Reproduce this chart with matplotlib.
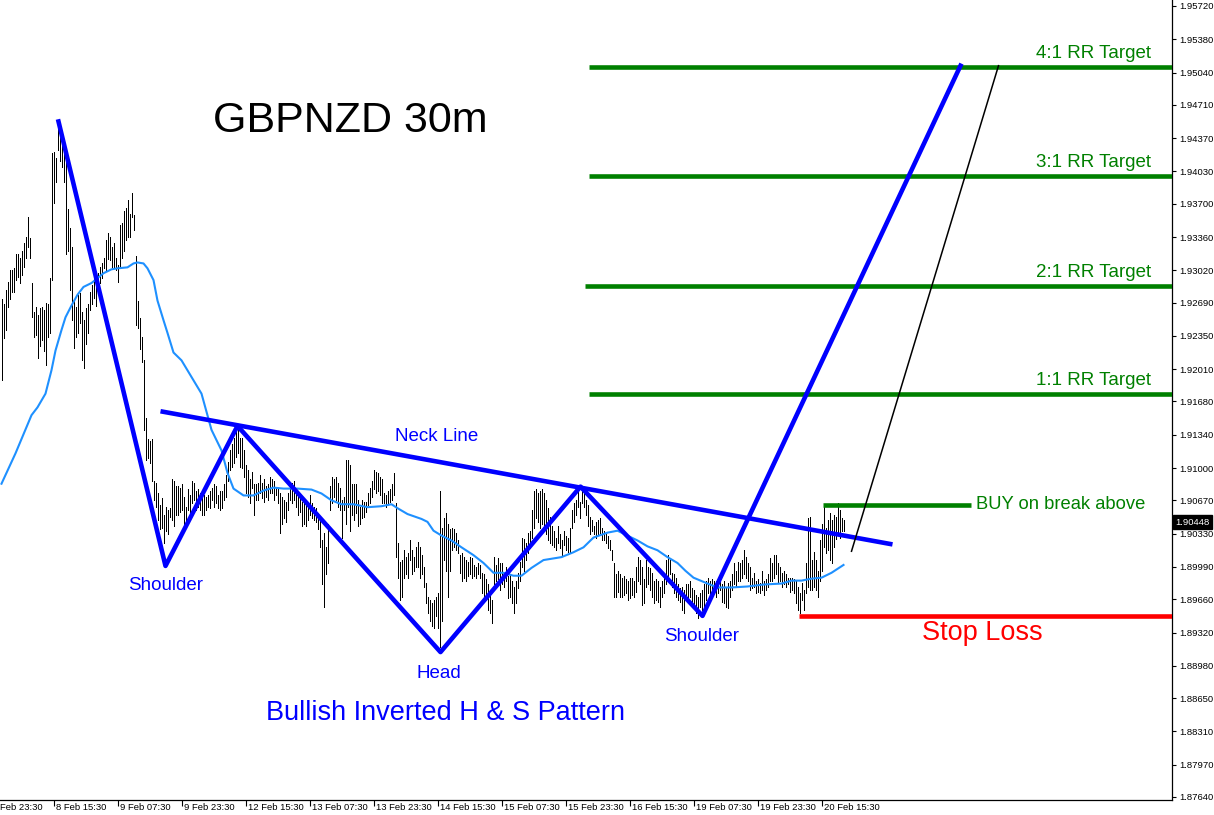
import matplotlib
matplotlib.use("Agg")
import matplotlib.pyplot as plt
import numpy as np

plt.rcParams['font.family'] = ['Liberation Sans', 'DejaVu Sans']

# 30m bar highs / lows (one entry per bar, left to right)
highs = [
    1.9273, 1.9268, 1.9282, 1.9290, 1.9302, 1.9302, 1.9304, 1.9319, 1.9319, 1.9315,
    1.9322, 1.9330, 1.9336, 1.9356, 1.9335, 1.9289, 1.9259, 1.9264, 1.9256, 1.9263,
    1.9264, 1.9261, 1.9269, 1.9268, 1.9294, 1.9422, 1.9423, 1.9417, 1.9452, 1.9448,
    1.9442, 1.9430, 1.9417, 1.9365, 1.9345, 1.9326, 1.9271, 1.9264, 1.9277, 1.9279,
    1.9259, 1.9251, 1.9263, 1.9268, 1.9280, 1.9287, 1.9305, 1.9294, 1.9299, 1.9305,
    1.9309, 1.9315, 1.9333, 1.9340, 1.9336, 1.9326, 1.9330, 1.9315, 1.9307, 1.9348,
    1.9350, 1.9363, 1.9366, 1.9374, 1.9360, 1.9381, 1.9358, 1.9317, 1.9271, 1.9253,
    1.9234, 1.9210, 1.9151, 1.9130, 1.9128, 1.9130, 1.9087, 1.9085, 1.9074, 1.9062,
    1.9069, 1.9052, 1.9060, 1.9057, 1.9059, 1.9089, 1.9087, 1.9082, 1.9082, 1.9080,
    1.9084, 1.9070, 1.9060, 1.9079, 1.9072, 1.9087, 1.9085, 1.9077, 1.9079, 1.9074,
    1.9070, 1.9072, 1.9070, 1.9072, 1.9077, 1.9080, 1.9084, 1.9082, 1.9072, 1.9077,
    1.9077, 1.9084, 1.9093, 1.9106, 1.9118, 1.9125, 1.9131, 1.9139, 1.9142, 1.9131,
    1.9131, 1.9118, 1.9103, 1.9098, 1.9089, 1.9096, 1.9084, 1.9084, 1.9085, 1.9093,
    1.9085, 1.9089, 1.9082, 1.9084, 1.9091, 1.9089, 1.9087, 1.9080, 1.9079, 1.9075,
    1.9070, 1.9067, 1.9065, 1.9074, 1.9084, 1.9085, 1.9087, 1.9079, 1.9075, 1.9072,
    1.9065, 1.9065, 1.9067, 1.9064, 1.9072, 1.9064, 1.9060, 1.9059, 1.9054, 1.9049,
    1.9026, 1.9034, 1.9019, 1.9043, 1.9082, 1.9091, 1.9089, 1.9091, 1.9085, 1.9080,
    1.9067, 1.9070, 1.9108, 1.9108, 1.9103, 1.9084, 1.9084, 1.9084, 1.9067, 1.9060,
    1.9067, 1.9065, 1.9065, 1.9075, 1.9080, 1.9087, 1.9098, 1.9096, 1.9095, 1.9091,
    1.9089, 1.9075, 1.9072, 1.9077, 1.9079, 1.9084, 1.9095, 1.9064, 1.9023, 1.9004,
    1.9006, 1.9016, 1.9009, 1.9013, 1.9026, 1.9016, 1.9009, 1.9019, 1.9024, 1.9019,
    1.9011, 1.8999, 1.8983, 1.8968, 1.8965, 1.8962, 1.8965, 1.8968, 1.8972, 1.9077,
    1.9039, 1.9049, 1.9054, 1.9043, 1.9038, 1.9039, 1.9038, 1.9034, 1.9026, 1.9011,
    1.9013, 1.9009, 1.9006, 1.9004, 1.9009, 1.9008, 1.9001, 1.8999, 1.9003, 1.9001,
    1.8993, 1.8992, 1.8987, 1.8982, 1.8972, 1.8965, 1.9009, 1.9001, 1.9008, 1.9003,
    1.9003, 1.8992, 1.8999, 1.8990, 1.8992, 1.8985, 1.8978, 1.8985, 1.8993, 1.9004,
    1.9029, 1.9028, 1.9023, 1.9034, 1.9036, 1.9057, 1.9077, 1.9079, 1.9074, 1.9077,
    1.9079, 1.9074, 1.9067, 1.9059, 1.9050, 1.9041, 1.9036, 1.9029, 1.9041, 1.9033,
    1.9026, 1.9036, 1.9031, 1.9029, 1.9039, 1.9057, 1.9064, 1.9067, 1.9077, 1.9065,
    1.9080, 1.9074, 1.9067, 1.9062, 1.9050, 1.9047, 1.9041, 1.9045, 1.9047, 1.9049,
    1.9039, 1.9036, 1.9034, 1.9031, 1.9026, 1.9016, 1.9003, 1.8992, 1.8995, 1.8992,
    1.8988, 1.8990, 1.8987, 1.8985, 1.8988, 1.8988, 1.8985, 1.8999, 1.9009, 1.9006,
    1.8999, 1.8987, 1.9006, 1.8999, 1.8998, 1.8993, 1.8985, 1.8987, 1.8985, 1.8978,
    1.8985, 1.8990, 1.9006, 1.9011, 1.9006, 1.8993, 1.8992, 1.8988, 1.8982, 1.8977,
    1.8978, 1.8975, 1.8982, 1.8982, 1.8985, 1.8977, 1.8975, 1.8970, 1.8968, 1.8972,
    1.8975, 1.8982, 1.8985, 1.8988, 1.8985, 1.8987, 1.8985, 1.8985, 1.8982, 1.8988,
    1.8982, 1.8985, 1.8978, 1.8983, 1.8985, 1.8992, 1.9003, 1.8995, 1.9004, 1.9003,
    1.9006, 1.9016, 1.9009, 1.9003, 1.8999, 1.8988, 1.8993, 1.8985, 1.8987, 1.8983,
    1.8995, 1.8985, 1.8987, 1.8992, 1.9008, 1.9003, 1.9011, 1.9011, 1.9003, 1.8999,
    1.8993, 1.8995, 1.8992, 1.8988, 1.8988, 1.8988, 1.8987, 1.8985, 1.8978, 1.8972,
    1.8983, 1.8975, 1.9003, 1.9049, 1.9050, 1.9006, 1.9014, 1.9006, 1.8995, 1.9026,
    1.9043, 1.9062, 1.9039, 1.9047, 1.9054, 1.9047, 1.9052, 1.9050, 1.9064, 1.9057,
    1.9049, 1.9047,
]
lows = [
    1.9190, 1.9233, 1.9241, 1.9264, 1.9273, 1.9280, 1.9280, 1.9292, 1.9295, 1.9289,
    1.9297, 1.9305, 1.9315, 1.9326, 1.9315, 1.9254, 1.9234, 1.9236, 1.9212, 1.9225,
    1.9231, 1.9220, 1.9205, 1.9234, 1.9238, 1.9292, 1.9371, 1.9392, 1.9425, 1.9414,
    1.9407, 1.9392, 1.9319, 1.9322, 1.9282, 1.9251, 1.9223, 1.9234, 1.9238, 1.9248,
    1.9210, 1.9202, 1.9227, 1.9238, 1.9261, 1.9268, 1.9274, 1.9266, 1.9282, 1.9289,
    1.9294, 1.9304, 1.9302, 1.9314, 1.9312, 1.9305, 1.9304, 1.9302, 1.9290, 1.9305,
    1.9315, 1.9322, 1.9333, 1.9336, 1.9336, 1.9356, 1.9343, 1.9246, 1.9243, 1.9222,
    1.9208, 1.9139, 1.9108, 1.9110, 1.9105, 1.9087, 1.9067, 1.9060, 1.9047, 1.9038,
    1.9039, 1.9023, 1.9036, 1.9033, 1.9050, 1.9047, 1.9041, 1.9052, 1.9052, 1.9055,
    1.9057, 1.9039, 1.9043, 1.9057, 1.9054, 1.9064, 1.9067, 1.9057, 1.9060, 1.9057,
    1.9052, 1.9052, 1.9057, 1.9060, 1.9059, 1.9067, 1.9060, 1.9064, 1.9059, 1.9057,
    1.9059, 1.9067, 1.9070, 1.9087, 1.9098, 1.9101, 1.9105, 1.9111, 1.9115, 1.9101,
    1.9100, 1.9091, 1.9074, 1.9070, 1.9064, 1.9080, 1.9052, 1.9067, 1.9067, 1.9074,
    1.9069, 1.9065, 1.9070, 1.9067, 1.9074, 1.9075, 1.9067, 1.9072, 1.9064, 1.9034,
    1.9043, 1.9049, 1.9045, 1.9057, 1.9067, 1.9064, 1.9067, 1.9060, 1.9052, 1.9055,
    1.9041, 1.9043, 1.9041, 1.9047, 1.9052, 1.9049, 1.9047, 1.9045, 1.9038, 1.9019,
    1.8982, 1.8958, 1.8992, 1.9003, 1.9057, 1.9064, 1.9070, 1.9067, 1.9060, 1.9057,
    1.9029, 1.9057, 1.9043, 1.9060, 1.9036, 1.9052, 1.9047, 1.9054, 1.9041, 1.9043,
    1.9049, 1.9050, 1.9055, 1.9062, 1.9064, 1.9070, 1.9079, 1.9074, 1.9077, 1.9072,
    1.9064, 1.9064, 1.9060, 1.9064, 1.9065, 1.9067, 1.9072, 1.9009, 1.8988, 1.8965,
    1.8968, 1.8988, 1.8992, 1.8988, 1.9006, 1.8992, 1.8995, 1.8999, 1.8999, 1.8988,
    1.8992, 1.8978, 1.8962, 1.8952, 1.8944, 1.8939, 1.8937, 1.8949, 1.8937, 1.8917,
    1.8944, 1.9006, 1.8995, 1.8968, 1.8995, 1.9016, 1.9019, 1.9016, 1.9013, 1.8993,
    1.8985, 1.8988, 1.8985, 1.8990, 1.8992, 1.8988, 1.8990, 1.8988, 1.8992, 1.8988,
    1.8972, 1.8967, 1.8965, 1.8955, 1.8952, 1.8942, 1.8982, 1.8985, 1.8987, 1.8975,
    1.8982, 1.8978, 1.8985, 1.8967, 1.8968, 1.8962, 1.8952, 1.8962, 1.8977, 1.8985,
    1.8999, 1.8995, 1.9006, 1.9013, 1.9018, 1.9029, 1.9039, 1.9049, 1.9045, 1.9039,
    1.9043, 1.9038, 1.9033, 1.9026, 1.9023, 1.9021, 1.9019, 1.9016, 1.9023, 1.9018,
    1.9011, 1.9021, 1.9016, 1.9014, 1.9013, 1.9039, 1.9045, 1.9052, 1.9060, 1.9049,
    1.9064, 1.9060, 1.9052, 1.9041, 1.9033, 1.9036, 1.9033, 1.9029, 1.9033, 1.9034,
    1.9026, 1.9026, 1.9023, 1.9018, 1.9016, 1.9006, 1.8968, 1.8968, 1.8973, 1.8968,
    1.8968, 1.8970, 1.8972, 1.8965, 1.8967, 1.8970, 1.8968, 1.8973, 1.8985, 1.8982,
    1.8960, 1.8962, 1.8978, 1.8982, 1.8975, 1.8968, 1.8962, 1.8965, 1.8963, 1.8958,
    1.8968, 1.8972, 1.8982, 1.8987, 1.8992, 1.8978, 1.8972, 1.8968, 1.8965, 1.8963,
    1.8955, 1.8952, 1.8965, 1.8965, 1.8968, 1.8962, 1.8958, 1.8952, 1.8947, 1.8958,
    1.8955, 1.8958, 1.8965, 1.8972, 1.8965, 1.8972, 1.8975, 1.8968, 1.8972, 1.8975,
    1.8963, 1.8962, 1.8958, 1.8957, 1.8968, 1.8975, 1.8982, 1.8978, 1.8985, 1.8985,
    1.8988, 1.8992, 1.8988, 1.8985, 1.8975, 1.8977, 1.8978, 1.8972, 1.8973, 1.8972,
    1.8975, 1.8970, 1.8975, 1.8978, 1.8985, 1.8985, 1.8988, 1.8992, 1.8983, 1.8985,
    1.8978, 1.8982, 1.8978, 1.8982, 1.8973, 1.8975, 1.8972, 1.8962, 1.8955, 1.8952,
    1.8965, 1.8955, 1.8972, 1.8978, 1.8975, 1.8975, 1.8978, 1.8975, 1.8968, 1.8985,
    1.8995, 1.9019, 1.9013, 1.9016, 1.9006, 1.9003, 1.9019, 1.9028, 1.9033, 1.9029,
    1.9036, 1.9036,
]

# moving average (bar index, price)
ma_idx = [0, 7, 15, 18, 22, 25, 27, 30, 32, 35, 38, 41, 45, 48, 51, 55, 58, 63, 66, 68,
          71, 73, 76, 78, 81, 83, 86, 90, 100, 105, 110, 113, 116, 121, 126, 131, 136, 141, 148, 155,
          160, 165, 170, 176, 183, 190, 195, 198, 203, 210, 213, 216, 220, 225, 230, 236, 241, 246, 251, 256,
          260, 265, 271, 280, 286, 291, 296, 303, 308, 313, 318, 323, 328, 333, 338, 342, 346, 353, 358, 365,
          373, 381, 390, 395, 400, 405, 410, 415, 421]
ma_price = [1.9084, 1.9115, 1.9154, 1.9162, 1.9176, 1.9200, 1.9220, 1.9241, 1.9254, 1.9266,
            1.9277, 1.9285, 1.9289, 1.9294, 1.9299, 1.9303, 1.9304, 1.9305, 1.9309, 1.9310,
            1.9309, 1.9304, 1.9292, 1.9271, 1.9251, 1.9238, 1.9218, 1.9210, 1.9176, 1.9139,
            1.9118, 1.9095, 1.9079, 1.9072, 1.9072, 1.9077, 1.9080, 1.9079, 1.9079, 1.9078,
            1.9074, 1.9067, 1.9063, 1.9063, 1.9060, 1.9061, 1.9063, 1.9059, 1.9053, 1.9048,
            1.9045, 1.9036, 1.9031, 1.9026, 1.9019, 1.9011, 1.9003, 1.8993, 1.8993, 1.8990,
            1.8990, 1.8998, 1.9006, 1.9009, 1.9014, 1.9019, 1.9029, 1.9034, 1.9036, 1.9031,
            1.9026, 1.9020, 1.9016, 1.9009, 1.9003, 1.8995, 1.8988, 1.8982, 1.8978, 1.8978,
            1.8979, 1.8981, 1.8982, 1.8985, 1.8985, 1.8987, 1.8988, 1.8993, 1.9001]

# drawn pattern: shoulder / head zigzag, neck line, projection
pattern_idx = [28.5, 82, 118, 219.5, 289.5, 350.5, 479.5]
pattern_price = [1.9454, 1.9000, 1.9143, 1.8912, 1.9081, 1.8949, 1.9511]
neck_idx = [79.5, 445.5]
neck_price = [1.9158, 1.9022]
proj_idx = [425, 498.5]
proj_price = [1.9015, 1.9511]

# trade levels
rr_labels = ['1:1 RR Target', '2:1 RR Target', '3:1 RR Target', '4:1 RR Target']
rr_prices = [1.9176, 1.9286, 1.9398, 1.9510]
rr_start = [293.5, 291.5, 293.5, 293.5]
buy_price = 1.9062
buy_span = [410.5, 484.5]
stop_price = 1.8949
stop_start = 398.5
last_price = 1.90448

y_ticks = [1.95720, 1.95380, 1.95040, 1.94710, 1.94370, 1.94030, 1.93700, 1.93360,
           1.93020, 1.92690, 1.92350, 1.92010, 1.91680, 1.91340, 1.91000, 1.90670,
           1.90330, 1.89990, 1.89660, 1.89320, 1.88980, 1.88650, 1.88310, 1.87970, 1.87640]
x_tick_idx = [-6, 26, 58, 90, 122, 154, 186, 218, 250, 282, 314, 346, 378, 410]
x_tick_labels = ['7 Feb 23:30', '8 Feb 15:30', '9 Feb 07:30', '9 Feb 23:30', '12 Feb 15:30',
                 '13 Feb 07:30', '13 Feb 23:30', '14 Feb 15:30', '15 Feb 07:30', '15 Feb 23:30',
                 '16 Feb 15:30', '19 Feb 07:30', '19 Feb 23:30', '20 Feb 15:30']

BLUE = '#0000ff'
GREEN = '#008000'
RED = '#ff0000'

fig = plt.figure(figsize=(12.14, 8.15), dpi=100)
ax = fig.add_axes([0, 15 / 815, 1172 / 1214, 800 / 815])
ax.set_xlim(-0.75, 585.25)
ax.set_ylim(1.87609, 1.95781)

idx = np.arange(len(highs))
ax.vlines(idx, lows, highs, color='black', linewidth=0.72, antialiased=False, zorder=2)
ax.plot(ma_idx, ma_price, color='#1e90ff', linewidth=1.5, zorder=3)

# target / entry / stop lines
for lbl, p, x0 in zip(rr_labels, rr_prices, rr_start):
    ax.plot([x0, 585.5], [p, p], color=GREEN, linewidth=3.3, solid_capstyle='butt', zorder=4)
    ax.annotate(lbl, xy=(575, p), xytext=(0, 3.5), textcoords='offset points',
                ha='right', va='bottom', color=GREEN, fontsize=13.5)
ax.plot(buy_span, [buy_price, buy_price], color=GREEN, linewidth=3.3, solid_capstyle='butt', zorder=4)
ax.text(487.5, 1.9063, 'BUY on break above', color=GREEN, fontsize=13.2, ha='left', va='center')
ax.plot([stop_start, 585.5], [stop_price, stop_price], color=RED, linewidth=3.3,
        solid_capstyle='butt', zorder=4)
ax.text(490.5, 1.8932, 'Stop Loss', color=RED, fontsize=19.5, ha='center', va='center')

# pattern
ax.plot(pattern_idx, pattern_price, color=BLUE, linewidth=3.3, zorder=5)
ax.plot(neck_idx, neck_price, color=BLUE, linewidth=3.3, solid_capstyle='butt', zorder=5)
ax.plot(proj_idx, proj_price, color='black', linewidth=1.1, zorder=5)

ax.text(174.5, 1.9454, 'GBPNZD 30m', fontsize=31, ha='center', va='center', color='black')
ax.text(217.5, 1.9132, 'Neck Line', fontsize=13.5, ha='center', va='center', color=BLUE)
ax.text(82, 1.8980, 'Shoulder', fontsize=13.5, ha='center', va='center', color=BLUE)
ax.text(218.5, 1.8890, 'Head', fontsize=13.5, ha='center', va='center', color=BLUE)
ax.text(350, 1.8928, 'Shoulder', fontsize=13.5, ha='center', va='center', color=BLUE)
ax.text(222, 1.8850, 'Bullish Inverted H & S Pattern', fontsize=19.5, ha='center', va='center',
        color=BLUE)

# axes styling (MT4 look)
for side in ['left', 'top']:
    ax.spines[side].set_visible(False)
for side in ['right', 'bottom']:
    ax.spines[side].set_linewidth(0.9)
ax.yaxis.tick_right()
ax.set_yticks(y_ticks)
ax.set_yticklabels([f'{v:.5f}' for v in y_ticks])
ax.tick_params(axis='y', direction='out', length=3, width=0.8, pad=2, labelsize=6.8)
ax.set_xticks(x_tick_idx[1:])
ax.set_xticklabels([])
ax.tick_params(axis='x', direction='out', length=4, width=0.8)
for i, lbl in zip(x_tick_idx, x_tick_labels):
    ax.annotate(lbl, xy=(i, 0), xycoords=('data', 'axes fraction'), xytext=(2, -2),
                textcoords='offset points', ha='left', va='top', fontsize=6.8,
                annotation_clip=False)

# current price box
ax.annotate(f'{last_price:.5f}', xy=(1.0, last_price), xycoords=('axes fraction', 'data'),
            xytext=(2.5, 0), textcoords='offset points', ha='left', va='center', color='white',
            fontsize=6.8, annotation_clip=False,
            bbox=dict(boxstyle='square,pad=0.25', facecolor='black', edgecolor='black'))

fig.savefig('out.png', dpi=100)
